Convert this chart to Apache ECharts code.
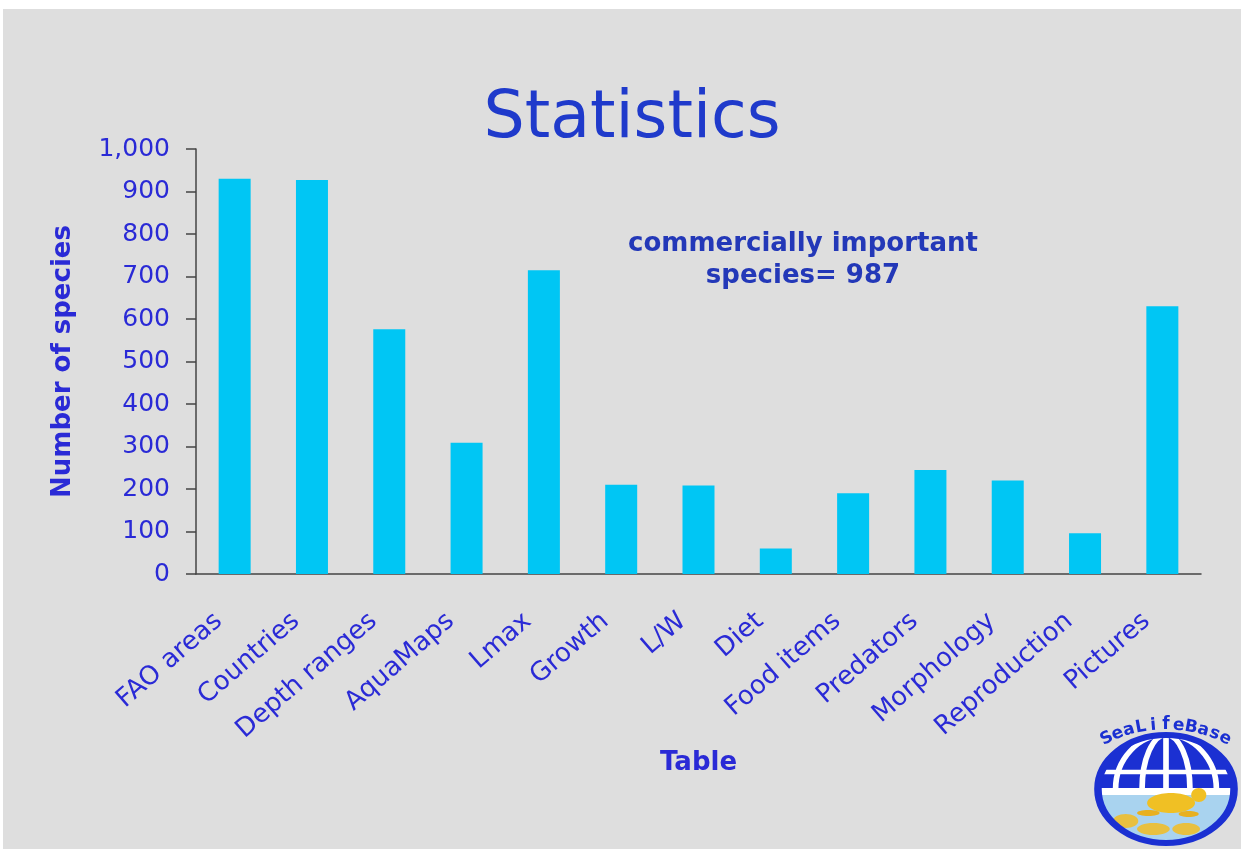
<!DOCTYPE html>
<html>
<head>
<meta charset="utf-8">
<script src="https://cdn.jsdelivr.net/npm/echarts@6/dist/echarts.min.js"></script>
<style>
  html, body { margin: 0; background: #fff; }
  #chart { position: absolute; left: 3px; top: 9px; width: 1238px; height: 840px; }
</style>
</head>
<body>
<div id="chart"></div>
<script>
const categories = [
  "FAO areas", "Countries", "Depth ranges", "AquaMaps", "Lmax", "Growth", "L/W",
  "Diet", "Food items", "Predators", "Morphology", "Reproduction", "Pictures",
];
const speciesCounts = [930, 927, 576, 309, 715, 210, 208, 60, 190, 245, 220, 96, 630];
const yMax = 1000;
const yStep = 100;
const noteLines = ["commercially important", "species= 987"];
const logoName = "SeaLifeBase";

const font = "DejaVu Sans";
const blue = "#2a2ad6";
const logoBlue = "#1b30d2";

// logo in the lower right corner (chart coordinates)
const logoX = 1163;
const logoY = 780;
const logoR = 54;

function logoLetters() {
  const letters = logoName.split("");
  const start = -128, end = -52;
  return letters.map((ch, i) => {
    const t = ((start + (end - start) * i / (letters.length - 1)) * Math.PI) / 180;
    const rx = 96, ry = 64;
    const phi = Math.atan2(Math.sin(t) / ry, Math.cos(t) / rx);
    return {
      type: "text",
      x: logoX + rx * Math.cos(t),
      y: logoY + ry * Math.sin(t),
      rotation: -(phi + Math.PI / 2),
      style: {
        text: ch,
        fill: logoBlue,
        font: `bold 17px "${font}"`,
        align: "center",
        verticalAlign: "middle",
      },
    };
  });
}

const white = { fill: "none", stroke: "#fff", lineWidth: 4.5 };
const logo = {
  type: "group",
  x: logoX,
  y: logoY,
  scaleX: 1.26,
  children: [
    { type: "circle", shape: { cx: 0, cy: 0, r: logoR }, style: { fill: "#a9d3ef" } },
    {
      type: "sector",
      shape: { cx: 0, cy: 0, r: logoR, r0: 0, startAngle: Math.PI, endAngle: Math.PI * 2 },
      style: { fill: logoBlue },
    },
    { type: "ellipse", shape: { cx: 0, cy: 0, rx: 19, ry: logoR }, style: white },
    { type: "ellipse", shape: { cx: 0, cy: 0, rx: 40, ry: logoR }, style: white },
    { type: "line", shape: { x1: 0, y1: -logoR, x2: 0, y2: 0 }, style: white },
    { type: "line", shape: { x1: -52, y1: -17, x2: 52, y2: -17 }, style: white },
    {
      type: "sector",
      shape: { cx: 0, cy: 0, r: logoR, r0: 0, startAngle: 0, endAngle: Math.PI },
      style: { fill: "#a9d3ef" },
    },
    { type: "rect", shape: { x: -54, y: -1, width: 108, height: 7 }, style: { fill: "#fff" } },
    { type: "ellipse", shape: { cx: 4, cy: 14, rx: 19, ry: 10 }, style: { fill: "#f0c024" } },
    { type: "ellipse", shape: { cx: 26, cy: 6, rx: 6, ry: 7 }, style: { fill: "#f0c024" } },
    { type: "ellipse", shape: { cx: -14, cy: 24, rx: 9, ry: 3 }, style: { fill: "#e8b020" } },
    { type: "ellipse", shape: { cx: 18, cy: 25, rx: 8, ry: 3 }, style: { fill: "#e8b020" } },
    { type: "ellipse", shape: { cx: -32, cy: 32, rx: 10, ry: 7 }, style: { fill: "#e8c040" } },
    { type: "ellipse", shape: { cx: -10, cy: 40, rx: 13, ry: 6 }, style: { fill: "#e8c040" } },
    { type: "ellipse", shape: { cx: 16, cy: 40, rx: 11, ry: 6 }, style: { fill: "#e8c040" } },
    { type: "circle", shape: { cx: 0, cy: 0, r: logoR }, style: { fill: "none", stroke: logoBlue, lineWidth: 6 } },
  ],
};

const chart = echarts.init(document.getElementById("chart"));

chart.setOption({
  animation: false,
  backgroundColor: "#dedede",
  textStyle: { fontFamily: font },
  title: {
    text: "Statistics",
    left: 629,
    top: 79,
    textAlign: "center",
    padding: 0,
    textStyle: { color: "#1f3acb", fontSize: 65, fontWeight: "normal", fontFamily: font },
  },
  grid: { left: 193, right: 40, top: 140, bottom: 275 },
  xAxis: {
    type: "category",
    data: categories,
    name: "Table",
    nameLocation: "middle",
    nameGap: 176,
    nameTextStyle: { color: blue, fontSize: 26, fontWeight: "bold", fontFamily: font },
    axisLine: { lineStyle: { color: "#444", width: 1.5 } },
    axisTick: { length: 8, lineStyle: { color: "#444", width: 1.5 } },
    axisLabel: {
      interval: 0,
      rotate: 41,
      margin: 30,
      padding: [0, 21, 0, 0],
      color: blue,
      fontSize: 26,
      fontFamily: font,
    },
  },
  yAxis: {
    type: "value",
    min: 0,
    max: yMax,
    interval: yStep,
    name: "Number of species",
    nameLocation: "middle",
    nameRotate: 90,
    nameGap: 120,
    nameTextStyle: { color: blue, fontSize: 26, fontWeight: "bold", fontFamily: font },
    axisLine: { show: true, lineStyle: { color: "#444", width: 1.5 } },
    axisTick: { show: true, length: 10, lineStyle: { color: "#444", width: 1.5 } },
    splitLine: { show: false },
    axisLabel: {
      margin: 26,
      color: blue,
      fontSize: 25,
      fontFamily: font,
      formatter: (v) => v.toLocaleString("en-US"),
    },
  },
  graphic: [
    {
      type: "text",
      x: 800,
      y: 219,
      style: {
        text: noteLines.join("\n"),
        fill: "#2338b8",
        font: `bold 26px "${font}"`,
        align: "center",
        verticalAlign: "top",
        lineHeight: 32,
      },
    },
    logo,
    ...logoLetters(),
  ],
  series: [
    {
      type: "bar",
      data: speciesCounts,
      barWidth: 32,
      itemStyle: { color: "#00c6f4" },
    },
  ],
});
</script>
</body>
</html>
